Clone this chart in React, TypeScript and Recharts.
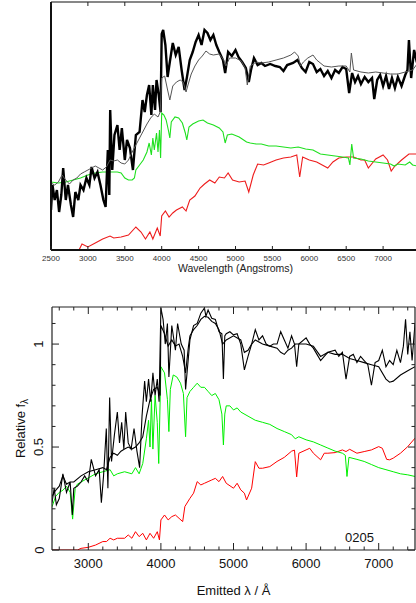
import React from "react";
import { LineChart, Line, XAxis, YAxis, Label } from "recharts";

// ---------- top panel (arbitrary flux units) ----------
const topObserved: [number, number][] = [
  [2500, 0.4], [2520, 0.65], [2550, 0.5], [2580, 0.6], [2610, 0.38], [2640, 0.55], [2665, 0.82],
  [2700, 0.5], [2730, 0.65], [2770, 0.45], [2800, 0.33], [2830, 0.58], [2870, 0.5], [2900, 0.65],
  [2940, 0.6], [2980, 0.72], [3020, 0.65], [3050, 0.83], [3090, 0.72], [3130, 0.78], [3170, 0.65],
  [3210, 0.5], [3240, 0.43], [3270, 1.0], [3290, 0.55], [3302, 1.4], [3330, 0.8], [3360, 1.15],
  [3400, 1.25], [3430, 1.0], [3460, 1.22], [3500, 0.9], [3530, 1.1], [3570, 1.02], [3610, 0.8],
  [3650, 1.15], [3700, 1.18], [3740, 1.5], [3770, 1.38], [3800, 1.55], [3830, 1.65], [3860, 1.35],
  [3880, 1.65], [3910, 1.4], [3930, 1.7], [3960, 1.55], [3985, 1.38], [4000, 2.16], [4020, 2.2],
  [4050, 2.05], [4080, 1.73], [4110, 1.88], [4150, 2.07], [4190, 1.95], [4230, 2.03], [4270, 1.8],
  [4310, 1.6], [4340, 1.72], [4380, 1.9], [4420, 1.98], [4460, 2.08], [4500, 2.15], [4540, 2.05],
  [4580, 2.2], [4620, 2.17], [4660, 2.1], [4700, 2.15], [4740, 2.05], [4780, 1.98], [4830, 1.9],
  [4860, 1.77], [4900, 1.98], [4950, 1.94], [5000, 2.0], [5040, 1.93], [5090, 1.88], [5140, 1.82],
  [5180, 1.68], [5210, 1.8], [5250, 1.92], [5300, 1.85], [5350, 1.87], [5400, 1.84], [5470, 1.86],
  [5540, 1.84], [5600, 1.83], [5650, 1.79], [5700, 1.85], [5780, 1.87], [5840, 1.9], [5900, 1.82],
  [5950, 1.78], [6000, 1.88], [6050, 1.86], [6100, 1.78], [6150, 1.81], [6200, 1.74], [6250, 1.79],
  [6300, 1.72], [6350, 1.8], [6400, 1.77], [6450, 1.83], [6500, 1.81], [6540, 1.57], [6580, 1.77],
  [6620, 1.68], [6660, 1.74], [6700, 1.66], [6750, 1.73], [6800, 1.68], [6850, 1.72], [6880, 1.51],
  [6920, 1.7], [6960, 1.75], [7000, 1.64], [7040, 1.74], [7080, 1.61], [7120, 1.72], [7160, 1.62],
  [7200, 1.73], [7250, 1.64], [7300, 1.75], [7330, 1.8], [7350, 2.1], [7380, 1.72], [7420, 2.0],
  [7450, 1.9], [7500, 1.95],
];

const topModel: [number, number][] = [
  [2500, 0.67], [2550, 0.65], [2600, 0.68], [2650, 0.75], [2700, 0.7], [2750, 0.66], [2800, 0.7],
  [2850, 0.72], [2900, 0.76], [2950, 0.78], [3000, 0.8], [3050, 0.82], [3100, 0.84], [3150, 0.82],
  [3200, 0.8], [3250, 0.83], [3300, 0.9], [3350, 0.89], [3400, 0.9], [3450, 0.87], [3500, 0.86],
  [3550, 0.9], [3600, 0.98], [3650, 1.05], [3700, 1.12], [3750, 1.19], [3800, 1.26], [3850, 1.32],
  [3900, 1.36], [3950, 1.33], [3980, 1.38], [4000, 1.72], [4040, 1.74], [4080, 1.6], [4110, 1.5],
  [4150, 1.64], [4200, 1.68], [4250, 1.7], [4290, 1.68], [4330, 1.58], [4360, 1.66], [4400, 1.76],
  [4450, 1.84], [4500, 1.9], [4550, 1.94], [4600, 1.99], [4650, 1.96], [4700, 1.95], [4780, 1.96],
  [4840, 1.9], [4870, 1.84], [4920, 1.92], [5000, 1.92], [5080, 1.89], [5130, 1.82], [5160, 1.65],
  [5200, 1.84], [5280, 1.88], [5350, 1.87], [5450, 1.88], [5550, 1.9], [5650, 1.92], [5750, 1.95],
  [5800, 1.98], [5850, 1.94], [5880, 1.84], [5920, 1.88], [5980, 1.92], [6050, 1.95], [6100, 1.9],
  [6200, 1.84], [6300, 1.83], [6400, 1.84], [6500, 1.84], [6550, 1.78], [6570, 1.97], [6600, 1.8],
  [6700, 1.78], [6800, 1.77], [6900, 1.78], [7000, 1.77], [7100, 1.76], [7200, 1.76], [7300, 1.78],
  [7400, 1.8], [7450, 1.85], [7500, 1.8],
];

const topYoung: [number, number][] = [
  [2500, 0.68], [2600, 0.67], [2700, 0.68], [2800, 0.7], [2900, 0.72], [3000, 0.75], [3100, 0.77],
  [3200, 0.78], [3300, 0.78], [3400, 0.78], [3450, 0.77], [3500, 0.72], [3550, 0.7], [3600, 0.7],
  [3630, 0.72], [3650, 0.8], [3700, 0.85], [3750, 0.9], [3800, 0.98], [3830, 1.07], [3860, 0.95],
  [3880, 1.12], [3900, 1.0], [3930, 1.17], [3950, 0.98], [3970, 1.2], [3985, 0.92], [4000, 1.37],
  [4030, 1.35], [4060, 1.3], [4090, 1.2], [4110, 1.12], [4130, 1.28], [4180, 1.33], [4230, 1.32],
  [4280, 1.27], [4320, 1.17], [4340, 1.1], [4370, 1.23], [4420, 1.26], [4500, 1.29], [4560, 1.3],
  [4620, 1.27], [4700, 1.25], [4780, 1.22], [4830, 1.18], [4860, 1.07], [4890, 1.15], [4950, 1.16],
  [5050, 1.13], [5150, 1.08], [5200, 1.07], [5280, 1.06], [5350, 1.06], [5450, 1.04], [5550, 1.04],
  [5650, 1.03], [5750, 1.02], [5850, 1.03], [5950, 1.01], [6050, 1.0], [6150, 0.96], [6250, 0.95],
  [6350, 0.94], [6450, 0.93], [6530, 0.92], [6550, 0.85], [6575, 1.06], [6600, 0.92], [6700, 0.91],
  [6800, 0.89], [6900, 0.88], [7000, 0.87], [7100, 0.86], [7150, 0.84], [7200, 0.86], [7300, 0.85],
  [7360, 0.88], [7400, 0.85], [7460, 0.84], [7500, 0.84],
];

const topOld: [number, number][] = [
  [2500, 0], [2880, 0], [2920, 0.06], [3000, 0.03], [3100, 0.07], [3200, 0.11], [3300, 0.14],
  [3350, 0.12], [3450, 0.13], [3550, 0.15], [3650, 0.23], [3720, 0.18], [3780, 0.11], [3840, 0.18],
  [3880, 0.11], [3940, 0.22], [3980, 0.14], [4000, 0.34], [4050, 0.39], [4100, 0.33], [4150, 0.37],
  [4200, 0.4], [4280, 0.43], [4330, 0.39], [4380, 0.5], [4450, 0.54], [4520, 0.62], [4580, 0.66],
  [4650, 0.7], [4720, 0.67], [4780, 0.73], [4850, 0.72], [4900, 0.77], [4960, 0.7], [5050, 0.68],
  [5130, 0.69], [5180, 0.58], [5240, 0.75], [5300, 0.86], [5380, 0.85], [5450, 0.87], [5550, 0.9],
  [5650, 0.92], [5750, 0.93], [5830, 0.95], [5870, 0.73], [5910, 0.93], [6000, 0.9], [6100, 0.88],
  [6200, 0.84], [6250, 0.82], [6320, 0.88], [6400, 0.92], [6500, 0.93], [6600, 0.93], [6700, 0.9],
  [6750, 0.9], [6800, 0.82], [6900, 0.91], [7000, 0.95], [7060, 0.9], [7110, 0.79], [7160, 0.84],
  [7250, 0.9], [7350, 0.96], [7500, 0.96],
];

// ---------- bottom panel (relative f_lambda) ----------
const botObserved: [number, number][] = [
  [2500, 0.23], [2530, 0.3], [2560, 0.22], [2600, 0.25], [2650, 0.37], [2700, 0.28], [2750, 0.33],
  [2780, 0.17], [2800, 0.3], [2850, 0.31], [2900, 0.33], [2950, 0.36], [3000, 0.33], [3041, 0.44],
  [3100, 0.36], [3150, 0.39], [3180, 0.23], [3210, 0.36], [3248, 0.59], [3270, 0.3], [3294, 0.74],
  [3320, 0.43], [3360, 0.56], [3400, 0.67], [3430, 0.52], [3460, 0.62], [3490, 0.49], [3515, 0.67],
  [3550, 0.52], [3590, 0.49], [3630, 0.59], [3670, 0.48], [3707, 0.4], [3740, 0.65], [3776, 0.82],
  [3800, 0.72], [3830, 0.83], [3860, 0.72], [3890, 0.86], [3920, 0.75], [3950, 0.83], [3975, 0.72],
  [4000, 1.175], [4030, 1.12], [4060, 1.0], [4090, 1.1], [4110, 0.84], [4150, 1.09], [4200, 0.97],
  [4230, 1.1], [4280, 1.0], [4320, 0.97], [4340, 0.78], [4380, 0.94], [4400, 1.02], [4450, 1.09],
  [4500, 1.1], [4550, 1.15], [4600, 1.175], [4620, 1.135], [4650, 1.165], [4700, 1.125], [4750, 1.12],
  [4800, 1.06], [4840, 1.05], [4861, 0.83], [4880, 1.04], [4900, 1.05], [4950, 1.06], [5000, 1.045],
  [5050, 1.05], [5100, 1.0], [5150, 0.875], [5200, 0.94], [5250, 1.0], [5300, 1.07], [5350, 1.02],
  [5400, 1.04], [5450, 1.0], [5500, 0.99], [5550, 1.0], [5600, 1.0], [5650, 1.06], [5700, 1.02],
  [5750, 0.98], [5800, 1.04], [5840, 1.0], [5870, 0.89], [5900, 1.0], [6000, 1.03], [6050, 1.0],
  [6100, 0.98], [6150, 0.95], [6200, 0.92], [6250, 0.94], [6300, 0.96], [6400, 0.97], [6450, 0.94],
  [6500, 0.96], [6550, 0.83], [6600, 0.94], [6650, 0.95], [6700, 0.91], [6750, 0.94], [6800, 0.92],
  [6850, 0.9], [6900, 0.8], [6950, 0.91], [7000, 0.92], [7050, 0.97], [7100, 0.89], [7150, 0.92],
  [7200, 0.9], [7250, 0.97], [7300, 0.91], [7340, 0.99], [7370, 1.12], [7400, 0.95], [7430, 1.06],
  [7460, 0.92], [7500, 1.1],
];

const botModel: [number, number][] = [
  [2500, 0.26], [2550, 0.29], [2600, 0.31], [2650, 0.36], [2700, 0.32], [2750, 0.33], [2800, 0.33],
  [2900, 0.36], [3000, 0.38], [3100, 0.39], [3200, 0.4], [3250, 0.39], [3300, 0.45], [3350, 0.47],
  [3400, 0.46], [3450, 0.48], [3500, 0.49], [3550, 0.5], [3600, 0.49], [3650, 0.5], [3700, 0.52],
  [3750, 0.55], [3800, 0.65], [3850, 0.73], [3900, 0.78], [3950, 0.79], [3990, 0.75], [4000, 1.09],
  [4050, 1.05], [4100, 0.99], [4150, 1.02], [4200, 0.99], [4250, 1.0], [4300, 0.94], [4340, 0.86],
  [4380, 0.99], [4400, 1.04], [4450, 1.07], [4500, 1.09], [4550, 1.12], [4600, 1.135], [4650, 1.13],
  [4700, 1.11], [4750, 1.1], [4800, 1.07], [4850, 1.0], [4900, 1.02], [5000, 1.04], [5100, 1.02],
  [5150, 0.96], [5200, 0.97], [5250, 1.0], [5300, 1.02], [5400, 1.0], [5500, 0.99], [5600, 0.98],
  [5650, 0.96], [5700, 0.95], [5750, 0.97], [5800, 0.98], [5850, 1.0], [5900, 1.0], [6000, 1.0],
  [6100, 0.99], [6200, 0.94], [6300, 0.96], [6400, 0.95], [6500, 0.95], [6600, 0.93], [6700, 0.92],
  [6800, 0.91], [6900, 0.9], [7000, 0.89], [7100, 0.83], [7150, 0.815], [7200, 0.82], [7300, 0.85],
  [7400, 0.87], [7500, 0.89],
];

const botYoung: [number, number][] = [
  [2500, 0.21], [2550, 0.26], [2600, 0.28], [2650, 0.29], [2700, 0.31], [2750, 0.28], [2784, 0.15],
  [2820, 0.3], [2850, 0.32], [2900, 0.33], [3000, 0.35], [3100, 0.37], [3200, 0.38], [3300, 0.39],
  [3350, 0.36], [3400, 0.37], [3500, 0.38], [3600, 0.37], [3650, 0.4], [3700, 0.37], [3750, 0.42],
  [3800, 0.54], [3830, 0.63], [3850, 0.5], [3870, 0.73], [3890, 0.49], [3920, 0.75], [3950, 0.62],
  [3970, 0.42], [4000, 0.89], [4050, 0.86], [4090, 0.73], [4110, 0.575], [4130, 0.78], [4170, 0.85],
  [4220, 0.84], [4270, 0.81], [4310, 0.76], [4340, 0.55], [4360, 0.74], [4400, 0.77], [4450, 0.79],
  [4500, 0.81], [4550, 0.79], [4600, 0.79], [4650, 0.77], [4700, 0.75], [4750, 0.76], [4800, 0.73],
  [4840, 0.66], [4861, 0.51], [4880, 0.66], [4900, 0.7], [4950, 0.7], [5000, 0.68], [5050, 0.69],
  [5100, 0.67], [5200, 0.65], [5300, 0.63], [5400, 0.62], [5500, 0.61], [5600, 0.59], [5700, 0.575],
  [5800, 0.56], [5850, 0.54], [5900, 0.55], [6000, 0.535], [6100, 0.525], [6200, 0.51], [6300, 0.495],
  [6400, 0.48], [6500, 0.47], [6540, 0.46], [6563, 0.357], [6590, 0.45], [6700, 0.44], [6800, 0.43],
  [6900, 0.415], [7000, 0.4], [7100, 0.39], [7200, 0.38], [7300, 0.37], [7400, 0.365], [7500, 0.357],
];

const botOld: [number, number][] = [
  [2500, 0], [2850, 0], [2900, 0.008], [3000, 0.013], [3100, 0.024], [3200, 0.041], [3250, 0.041],
  [3300, 0.057], [3350, 0.049], [3400, 0.057], [3500, 0.057], [3550, 0.073], [3600, 0.057],
  [3650, 0.089], [3700, 0.065], [3750, 0.081], [3800, 0.049], [3850, 0.081], [3900, 0.057],
  [3950, 0.089], [3980, 0.049], [4000, 0.146], [4050, 0.17], [4100, 0.146], [4150, 0.162],
  [4200, 0.17], [4250, 0.154], [4300, 0.138], [4330, 0.211], [4400, 0.251], [4450, 0.276],
  [4500, 0.332], [4550, 0.316], [4600, 0.324], [4650, 0.332], [4700, 0.34], [4750, 0.348],
  [4800, 0.332], [4850, 0.357], [4900, 0.324], [5000, 0.3], [5050, 0.324], [5100, 0.292],
  [5150, 0.276], [5180, 0.243], [5250, 0.3], [5300, 0.429], [5350, 0.397], [5400, 0.397],
  [5500, 0.405], [5600, 0.43], [5700, 0.45], [5800, 0.48], [5840, 0.485], [5870, 0.355],
  [5900, 0.47], [6000, 0.486], [6050, 0.494], [6100, 0.47], [6150, 0.454], [6200, 0.438],
  [6250, 0.47], [6300, 0.47], [6400, 0.473], [6500, 0.486], [6550, 0.478], [6600, 0.489],
  [6700, 0.47], [6800, 0.478], [6900, 0.486], [7000, 0.502], [7050, 0.494], [7110, 0.44],
  [7150, 0.438], [7200, 0.446], [7300, 0.47], [7400, 0.502], [7500, 0.543],
];

const topTicks = [2500, 3000, 3500, 4000, 4500, 5000, 5500, 6000, 6500, 7000, 7500];
const botXTicks = [
  2600, 2800, 3000, 3200, 3400, 3600, 3800, 4000, 4200, 4400, 4600, 4800, 5000, 5200, 5400,
  5600, 5800, 6000, 6200, 6400, 6600, 6800, 7000, 7200, 7400,
];
const botXLabels = [3000, 4000, 5000, 6000, 7000];
const botYTicks = [0, 0.1, 0.2, 0.3, 0.4, 0.5, 0.6, 0.7, 0.8, 0.9, 1, 1.1];
const botYLabels = [0, 0.5, 1];

const pts = (a: [number, number][]) => a.map(([w, f]) => ({ w, f }));

const FONT = "'Liberation Sans', Arial, sans-serif";

const TopBottomTick = (p: any) => {
  const v = p.payload.value;
  return (
    <g>
      <line x1={p.x} x2={p.x} y1={p.y} y2={p.y - 4} stroke="#222" strokeWidth={1} />
      {v < 7500 && (
        <text x={p.x} y={p.y + 8} textAnchor="middle" dominantBaseline="central"
          fontSize={8} fill="#333" fontFamily={FONT}>{v}</text>
      )}
    </g>
  );
};

const TopTopTick = (p: any) => (
  <line x1={p.x} x2={p.x} y1={p.y} y2={p.y + 4} stroke="#222" strokeWidth={1} />
);

const BotXTick = (p: any) => {
  const major = botXLabels.includes(p.payload.value);
  return (
    <g>
      <line x1={p.x} x2={p.x} y1={p.y} y2={p.y - (major ? 7 : 3.5)} stroke="#222" strokeWidth={1} />
      {major && (
        <text x={p.x} y={p.y + 13} textAnchor="middle" dominantBaseline="central"
          fontSize={13} fill="#111" fontFamily={FONT}>{p.payload.value}</text>
      )}
    </g>
  );
};

const BotTopTick = (p: any) => {
  const major = botXLabels.includes(p.payload.value);
  return <line x1={p.x} x2={p.x} y1={p.y} y2={p.y + (major ? 7 : 3.5)} stroke="#222" strokeWidth={1} />;
};

const BotLeftTick = (p: any) => {
  const v = Math.round(p.payload.value * 10) / 10;
  const major = botYLabels.includes(v);
  const lx = p.x - 13;
  return (
    <g>
      <line x1={p.x} x2={p.x + (major ? 7 : 3.5)} y1={p.y} y2={p.y} stroke="#222" strokeWidth={1} />
      {major && (
        <text x={lx} y={p.y} transform={`rotate(-90 ${lx} ${p.y})`} textAnchor="middle"
          dominantBaseline="central" fontSize={13} fill="#111" fontFamily={FONT}>{String(v)}</text>
      )}
    </g>
  );
};

const BotRightTick = (p: any) => {
  const v = Math.round(p.payload.value * 10) / 10;
  const major = botYLabels.includes(v);
  return <line x1={p.x} x2={p.x - (major ? 7 : 3.5)} y1={p.y} y2={p.y} stroke="#222" strokeWidth={1} />;
};

export default function App() {
  return (
    <div style={{ position: "absolute", left: 0, top: 0, width: 416, height: 603, overflow: "hidden", background: "#fff" }}>
      <div style={{ position: "absolute", left: 0, top: 0, width: 416, height: 282, overflow: "hidden" }}>
        <LineChart width={425} height={282} margin={{ top: 1, right: 5, bottom: 0, left: 50 }}>
          <XAxis dataKey="w" type="number" domain={[2500, 7500]} allowDataOverflow ticks={topTicks}
            interval={0} height={32} tickSize={0} tickMargin={0} tickLine={false}
            axisLine={{ stroke: "#111", strokeWidth: 2 }} tick={TopBottomTick}>
            <Label content={(props: any) => (
              <text x={props.viewBox.x + props.viewBox.width / 2} y={props.viewBox.y + 18}
                textAnchor="middle" dominantBaseline="central" fontSize={10.5} fill="#222"
                fontFamily={FONT}>Wavelength (Angstroms)</text>
            )} />
          </XAxis>
          <XAxis xAxisId="t" orientation="top" dataKey="w" type="number" domain={[2500, 7500]}
            allowDataOverflow ticks={topTicks} interval={0} height={1} tickSize={0} tickMargin={0}
            tickLine={false} axisLine={{ stroke: "#111", strokeWidth: 1.2 }} tick={TopTopTick} />
          <YAxis type="number" domain={[0, 2.48]} allowDataOverflow width={1} ticks={[0, 2.48]}
            tick={() => <g />} tickSize={0} tickMargin={0} tickLine={false}
            axisLine={{ stroke: "#111", strokeWidth: 2 }} />
          <Line data={pts(topOld)} dataKey="f" stroke="#ee1c1c" strokeWidth={1.1} dot={false} isAnimationActive={false} />
          <Line data={pts(topYoung)} dataKey="f" stroke="#1ee01e" strokeWidth={1.1} dot={false} isAnimationActive={false} />
          <Line data={pts(topObserved)} dataKey="f" stroke="#000" strokeWidth={2.4} dot={false} isAnimationActive={false} />
          <Line data={pts(topModel)} dataKey="f" stroke="#555" strokeWidth={1} dot={false} isAnimationActive={false} />
        </LineChart>
      </div>

      <div style={{ position: "absolute", left: 0, top: 300, width: 416, height: 303 }}>
        <LineChart width={416} height={303} margin={{ top: 6, right: 0, bottom: 0, left: 0 }}>
          <XAxis dataKey="w" type="number" domain={[2500, 7500]} allowDataOverflow ticks={botXTicks}
            interval={0} height={53} tickSize={0} tickMargin={0} tickLine={false}
            axisLine={{ stroke: "#222", strokeWidth: 1.2 }} tick={BotXTick}>
            <Label content={(props: any) => (
              <text x={props.viewBox.x + props.viewBox.width / 2} y={props.viewBox.y + 40}
                textAnchor="middle" dominantBaseline="central" fontSize={13} fill="#111"
                fontFamily={FONT}>Emitted λ / Å</text>
            )} />
          </XAxis>
          <XAxis xAxisId="t" orientation="top" dataKey="w" type="number" domain={[2500, 7500]}
            allowDataOverflow ticks={botXTicks} interval={0} height={1} tickSize={0} tickMargin={0}
            tickLine={false} axisLine={{ stroke: "#222", strokeWidth: 1.2 }} tick={BotTopTick} />
          <YAxis type="number" domain={[0, 1.18]} allowDataOverflow ticks={botYTicks} interval={0}
            width={52} tickSize={0} tickMargin={0} tickLine={false}
            axisLine={{ stroke: "#222", strokeWidth: 1.2 }} tick={BotLeftTick}>
            <Label content={(props: any) => {
              const cy = props.viewBox.y + props.viewBox.height / 2;
              return (
                <text x={20} y={cy} transform={`rotate(-90 20 ${cy})`} textAnchor="middle"
                  dominantBaseline="central" fontSize={13} fill="#111" fontFamily={FONT}>
                  Relative f<tspan fontSize={10} dy={4}>λ</tspan>
                </text>
              );
            }} />
          </YAxis>
          <YAxis yAxisId="r" orientation="right" type="number" domain={[0, 1.18]} allowDataOverflow
            ticks={botYTicks} interval={0} width={1} tickSize={0} tickMargin={0} tickLine={false}
            axisLine={{ stroke: "#222", strokeWidth: 1.2 }} tick={BotRightTick} />
          <Line data={pts(botOld)} dataKey="f" stroke="#ff0000" strokeWidth={1} dot={false} isAnimationActive={false} />
          <Line data={pts(botYoung)} dataKey="f" stroke="#00f000" strokeWidth={1} dot={false} isAnimationActive={false} />
          <Line data={pts(botModel)} dataKey="f" stroke="#000" strokeWidth={1.1} dot={false} isAnimationActive={false} />
          <Line data={pts(botObserved)} dataKey="f" stroke="#000" strokeWidth={1.1} dot={false} isAnimationActive={false} />
        </LineChart>
        <div style={{ position: "absolute", left: 345, top: 230, fontSize: 13, fontFamily: FONT, color: "#111" }}>0205</div>
      </div>
    </div>
  );
}
